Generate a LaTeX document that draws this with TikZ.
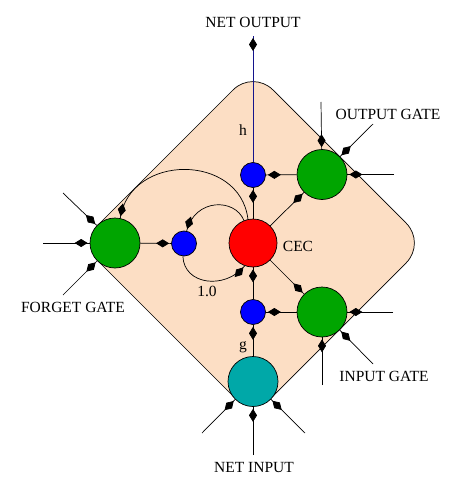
\documentclass[tikz,border=0pt]{standalone}
\usepackage{fontspec}
\setmainfont{Liberation Serif}
\usetikzlibrary{arrows.meta,decorations.markings}
\definecolor{peach}{RGB}{252,222,196}
\definecolor{gategreen}{RGB}{0,165,0}
\definecolor{netcyan}{RGB}{0,168,168}
\definecolor{navyline}{RGB}{20,20,140}
\begin{document}
\begin{tikzpicture}[x=1pt,y=-1pt,
  big/.style={circle, draw, line width=0.7pt, minimum size=50pt, inner sep=0pt},
  small/.style={circle, draw, line width=0.7pt, fill=blue, minimum size=25pt, inner sep=0pt},
  arr/.style={line width=0.7pt, decoration={markings,
      mark=at position -2pt with {\arrow[black]{Diamond[length=13pt,width=8pt]}}},
      postaction={decorate}},
  lab/.style={font=\fontsize{15.5}{18}\selectfont, inner sep=0pt}]
\useasboundingbox (0,0) rectangle (470,492);
% background
\draw[fill=peach, line width=0.7pt, rounded corners=28pt] (80,243) -- (253,70) -- (426,243) -- (253,416) -- cycle;
% nodes
\node[big, fill=red, minimum size=48pt] (cec) at (253,243) {};
\node[big, fill=gategreen] (fg) at (115,243) {};
\node[big, fill=gategreen] (og) at (322,174.5) {};
\node[big, fill=gategreen] (ig) at (322,312) {};
\node[big, fill=netcyan] (ni) at (253,381.5) {};
\node[small] (ht) at (253,175) {};
\node[small] (bl) at (184,243.5) {};
\node[small] (hb) at (253,312) {};
% labels
\node[lab] (tno) at (253,22) {NET OUTPUT};
\node[lab] (th) at (243,130) {h};
\node[lab] (tog) at (388,114) {OUTPUT GATE};
\node[lab] (tcec) at (298,246) {CEC};
\node[lab] (tfg) at (73,307) {FORGET GATE};
\node[lab] (tone) at (207,291) {1.0};
\node[lab] (tg) at (243,347) {g};
\node[lab] (tig) at (384,376) {INPUT GATE};
\node[lab] (tni) at (254,467) {NET INPUT};
% free ends
\coordinate (out) at (253,36);
\coordinate (f1) at (63,193);
\coordinate (f2) at (43,243);
\coordinate (f3) at (63,295);
\coordinate (o1) at (321,102);
\coordinate (o2) at (373,124);
\coordinate (o3) at (394,174.5);
\coordinate (i1) at (393,312);
\coordinate (i2) at (373,364);
\coordinate (i3) at (322,385);
\coordinate (n1) at (202,433);
\coordinate (n2) at (253,455);
\coordinate (n3) at (305,433);
% inner connections
\draw[arr] (fg) -- (bl);
\draw[arr] (cec) -- (ht);
\draw[arr] (og) -- (ht);
\draw[arr] (cec) -- (og);
\draw[arr] (cec) -- (ig);
\draw[arr] (ig) -- (hb);
\draw[arr] (hb) -- (cec);
\draw[arr] (ni) -- (hb);
\draw[arr, navyline] (ht) -- (out);
% loops
\draw[arr] (cec.102) .. controls (240,153) and (130,153) .. (fg.78);
\draw[arr] (cec.112) .. controls (235,198) and (195,198) .. (bl.78);
\draw[arr] (bl.-95) .. controls (184,285) and (225,290) .. (cec.-110);
% gate inputs
\draw[arr] (f1) -- (fg);
\draw[arr] (f2) -- (fg);
\draw[arr] (f3) -- (fg);
\draw[arr] (o1) -- (og);
\draw[arr] (o2) -- (og);
\draw[arr] (o3) -- (og);
\draw[arr] (i1) -- (ig);
\draw[arr] (i2) -- (ig);
\draw[arr] (i3) -- (ig);
\draw[arr] (n1) -- (ni);
\draw[arr] (n2) -- (ni);
\draw[arr] (n3) -- (ni);
\end{tikzpicture}
\end{document}
